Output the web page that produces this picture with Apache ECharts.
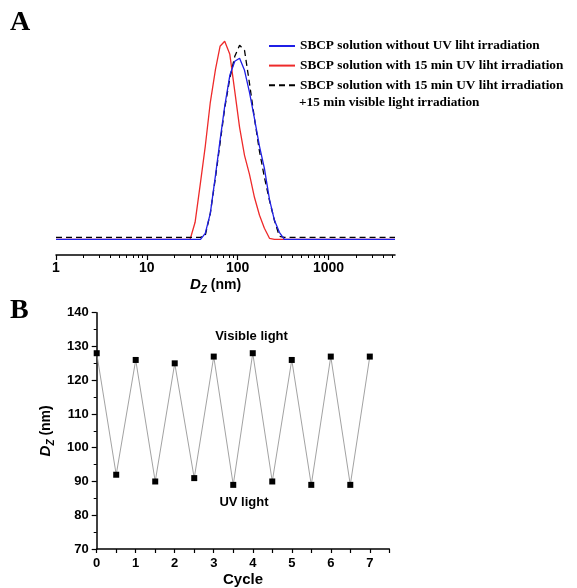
<!DOCTYPE html>
<html>
<head>
<meta charset="utf-8">
<script src="https://cdn.jsdelivr.net/npm/echarts@6/dist/echarts.min.js"></script>
<style>
  html, body { margin: 0; padding: 0; background: #fff; }
  #main { width: 577px; height: 588px; }
</style>
</head>
<body>
<div id="main"></div>
<script>
// panel A: size distribution (nm) and intensity
var sizes = [1, 25, 30, 34, 39, 44, 50, 57, 64, 72, 82, 93, 105, 119, 135, 153, 174, 197, 224, 254, 288, 327, 5400];
var noUV = [0, 0, 0, 0, 0, 0.6, 2.6, 6.4, 9.9, 13.3, 16.4, 17.8, 18.1, 16.9, 14.7, 12.1, 9.3, 7.1, 4.0, 1.9, 0.7, 0, 0];
var withUV = [0, 0, 0, 1.7, 5.7, 9.3, 13.7, 17.0, 19.3, 19.8, 18.5, 14.8, 11.2, 8.4, 6.5, 4.2, 2.4, 1.1, 0.1, 0, 0, 0, 0];
var uvVisible = [0.2, 0.2, 0.2, 0.2, 0.2, 0.4, 2.6, 6.2, 9.6, 13.1, 16.1, 18.3, 19.4, 18.9, 15.6, 12.1, 8.8, 6.2, 3.9, 1.9, 0.3, 0.2, 0.2];
var majorTicksA = [1, 10, 100, 1000];
var minorTicksA = [2, 3, 4, 5, 6, 7, 8, 9, 20, 30, 40, 50, 60, 70, 80, 90, 200, 300, 400, 500, 600, 700, 800, 900, 2000, 3000, 4000, 5000];
var seriesKeys = ['noUV', 'withUV', 'uvVisible'];
var legendNames = [
    'SBCP solution without UV liht irradiation',
    'SBCP solution with 15 min UV liht irradiation',
    'SBCP solution with 15 min UV liht irradiation'
];

// panel B: cycling between UV and visible light
var cycles = [0, 0.5, 1, 1.5, 2, 2.5, 3, 3.5, 4, 4.5, 5, 5.5, 6, 6.5, 7];
var dz = [128, 92, 126, 90, 125, 91, 127, 89, 128, 90, 126, 89, 127, 89, 127];

const chart = echarts.init(document.getElementById('main'));

function pairs(xs, ys) {
    return xs.map((x, i) => [x, ys[i]]);
}

var sansBold = { fontFamily: 'Liberation Sans', fontWeight: 'bold', color: '#000' };
var dzRich = {
    d: { fontFamily: 'Liberation Sans', fontWeight: 'bold', fontStyle: 'italic', fontSize: 15, color: '#000', lineHeight: 20, verticalAlign: 'middle' },
    z: { fontFamily: 'Liberation Sans', fontWeight: 'bold', fontStyle: 'italic', fontSize: 10, color: '#000', lineHeight: 20, verticalAlign: 'bottom' },
    n: { fontFamily: 'Liberation Sans', fontWeight: 'bold', fontSize: 14, color: '#000', lineHeight: 20, verticalAlign: 'middle' }
};

chart.setOption({
    backgroundColor: '#fff',
    animation: false,
    grid: [
        { left: 56, right: 182, top: 30, bottom: 333 },
        { left: 96.7, right: 187.7, top: 312.7, bottom: 38.7 }
    ],
    legend: {
        orient: 'vertical',
        left: 268,
        top: 39,
        padding: 0,
        itemWidth: 26,
        itemHeight: 12,
        itemGap: 5.6,
        data: seriesKeys,
        itemStyle: { opacity: 0 },
        formatter: function (name) {
            return legendNames[seriesKeys.indexOf(name)];
        },
        textStyle: { fontFamily: 'Liberation Serif', fontWeight: 'bold', fontSize: 13.3, color: '#000', lineHeight: 14 }
    },
    graphic: [
        { type: 'text', left: 10, top: 9, style: { text: 'A', fontFamily: 'Liberation Serif', fontWeight: 'bold', fontSize: 28, fill: '#000' } },
        { type: 'text', left: 10, top: 297, style: { text: 'B', fontFamily: 'Liberation Serif', fontWeight: 'bold', fontSize: 28, fill: '#000' } },
        { type: 'text', x: 299, y: 102.9, style: { text: '+15 min visible light irradiation', fontFamily: 'Liberation Serif', fontWeight: 'bold', fontSize: 13.3, fill: '#000', verticalAlign: 'middle' } },
        { type: 'text', x: 251.5, y: 336.7, style: { text: 'Visible light', fontFamily: 'Liberation Sans', fontWeight: 'bold', fontSize: 13, fill: '#000', align: 'center', verticalAlign: 'middle' } },
        { type: 'text', x: 244, y: 502, style: { text: 'UV light', fontFamily: 'Liberation Sans', fontWeight: 'bold', fontSize: 13, fill: '#000', align: 'center', verticalAlign: 'middle' } }
    ],
    xAxis: [
        {
            type: 'log',
            gridIndex: 0,
            position: 'bottom',
            offset: 0,
            min: 1,
            max: 5400,
            axisLine: { onZero: false, lineStyle: { color: '#000', width: 1.5 } },
            axisTick: { length: 5, customValues: majorTicksA, lineStyle: { color: '#000', width: 1.2 } },
            axisLabel: Object.assign({
                fontSize: 14,
                margin: 6,
                customValues: majorTicksA,
                formatter: function (v) {
                    return String(v);
                }
            }, sansBold),
            splitLine: { show: false },
            name: '{d|D}{z|Z}{n| (nm)}',
            nameLocation: 'middle',
            nameGap: 20,
            nameTextStyle: { rich: dzRich, padding: [0, 20, 0, 0] }
        },
        {
            type: 'log',
            gridIndex: 0,
            position: 'bottom',
            offset: 0,
            min: 1,
            max: 5400,
            axisLine: { show: false, onZero: false },
            axisTick: { length: 3, customValues: minorTicksA, lineStyle: { color: '#000', width: 1 } },
            axisLabel: { show: false },
            splitLine: { show: false }
        },
        {
            type: 'value',
            gridIndex: 1,
            min: 0,
            max: 7.5,
            interval: 0.5,
            axisLine: { onZero: false, lineStyle: { color: '#000', width: 1.5 } },
            axisTick: { length: 4, lineStyle: { color: '#000', width: 1.2 } },
            axisLabel: Object.assign({
                fontSize: 13,
                margin: 8,
                formatter: function (v) {
                    return Number.isInteger(v) ? v : '';
                }
            }, sansBold),
            splitLine: { show: false },
            name: 'Cycle',
            nameLocation: 'middle',
            nameGap: 23,
            nameTextStyle: Object.assign({ fontSize: 15 }, sansBold)
        }
    ],
    yAxis: [
        {
            type: 'value',
            gridIndex: 0,
            min: -1.57,
            max: 20.93,
            show: false
        },
        {
            type: 'value',
            gridIndex: 1,
            min: 70,
            max: 140,
            interval: 10,
            axisLine: { show: true, lineStyle: { color: '#000', width: 1.5 } },
            axisTick: { show: true, length: 5, lineStyle: { color: '#000', width: 1.2 } },
            minorTick: { show: true, splitNumber: 2, length: 3, lineStyle: { color: '#000', width: 1 } },
            axisLabel: Object.assign({ fontSize: 13, margin: 8 }, sansBold),
            splitLine: { show: false },
            name: '{d|D}{z|Z}{n| (nm)}',
            nameLocation: 'middle',
            nameGap: 31,
            nameTextStyle: { rich: dzRich }
        }
    ],
    series: [
        {
            name: 'noUV',
            type: 'line',
            xAxisIndex: 0,
            yAxisIndex: 0,
            data: pairs(sizes, noUV),
            symbol: 'none',
            lineStyle: { color: '#1f1fe6', width: 1.3 },
            itemStyle: { color: '#1f1fe6' },
            z: 3
        },
        {
            name: 'withUV',
            type: 'line',
            xAxisIndex: 0,
            yAxisIndex: 0,
            data: pairs(sizes, withUV),
            symbol: 'none',
            lineStyle: { color: '#ee2a2a', width: 1.3 },
            itemStyle: { color: '#ee2a2a' },
            z: 2
        },
        {
            name: 'uvVisible',
            type: 'line',
            xAxisIndex: 0,
            yAxisIndex: 0,
            data: pairs(sizes, uvVisible),
            symbol: 'none',
            lineStyle: { color: '#000', width: 1.3, type: [6, 4] },
            itemStyle: { color: '#000' },
            z: 2
        },
        {
            name: 'cycle',
            type: 'line',
            xAxisIndex: 2,
            yAxisIndex: 1,
            data: pairs(cycles, dz),
            symbol: 'rect',
            symbolSize: 6,
            itemStyle: { color: '#000' },
            lineStyle: { color: '#8a8a8a', width: 0.8 }
        }
    ]
});
</script>
</body>
</html>
